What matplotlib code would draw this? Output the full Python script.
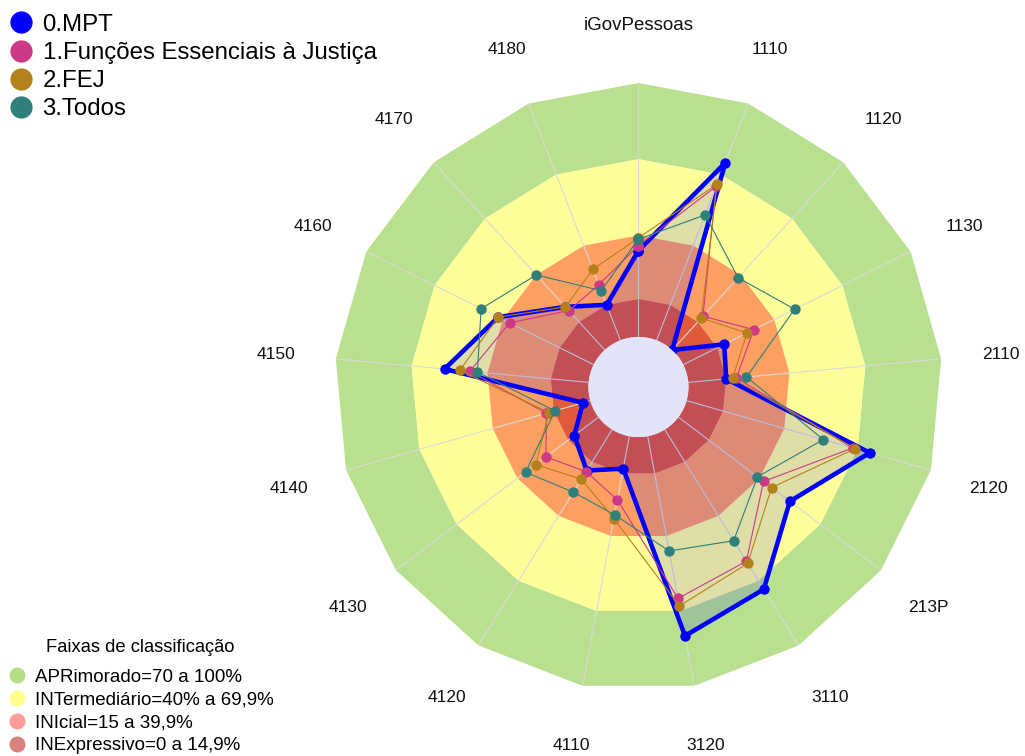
import numpy as np
import matplotlib.pyplot as plt
from matplotlib.lines import Line2D

plt.rcParams['font.family'] = ['Liberation Sans', 'DejaVu Sans']

categories = ['iGovPessoas', '1110', '1120', '1130', '2110', '2120', '213P', '3110',
              '3120', '4110', '4120', '4130', '4140', '4150', '4160', '4170', '4180']

series_names = ['0.MPT', '1.Funções Essenciais à Justiça', '2.FEJ', '3.Todos']
mpt = [34, 75, 0, 18, 15, 75, 55, 74, 80, 13, 19, 12, 3, 57, 42, 23, 15]
fej_funcoes = [36, 65, 18, 31, 19, 68, 42, 61, 65, 25.5, 19.5, 26, 18, 47, 37, 21, 23.5]
fej = [39, 66, 17, 28, 17.5, 69, 46, 62, 68, 33, 23, 31, 17, 51, 42, 23, 30]
todos = [38.5, 53, 38.5, 49, 23, 56, 39, 51.5, 46, 31.5, 29, 36, 14.5, 44, 49.5, 40, 21]
series_colors = ['#0000FF', '#CC3A87', '#B5811C', '#2F7F7B']

# faixas de classificacao (limites em %)
band_title = 'Faixas de classificação'
band_names = ['APRimorado=70 a 100%', 'INTermediário=40% a 69,9%',
              'INIcial=15 a 39,9%', 'INExpressivo=0 a 14,9%']
band_lo = [70, 40, 15, 0]
band_hi = [100, 70, 40, 15]
band_colors = ['#B9E08E', '#FFFF99', '#FFA062', '#E15A3A']
band_legend_colors = ['#B5DD88', '#FFFF8E', '#FF9C9C', '#D98080']

n = len(categories)
theta = np.linspace(0, 2 * np.pi, n, endpoint=False)
th_c = np.append(theta, theta[0])

def closed(v):
    return np.append(v, v[0])

fig = plt.figure(figsize=(10.25, 7.56), dpi=100)
ax = fig.add_axes([0.3263, 0.086, 0.5932, 0.8042], projection='polar')
ax.set_theta_zero_location('N')
ax.set_theta_direction(-1)
ax.set_ylim(0, 100)
ax.set_rorigin(-19.7)
ax.axis('off')

# background bands (polygonal rings)
for lo, hi, c in zip(band_lo, band_hi, band_colors):
    r_out = np.full(n + 1, hi)
    r_in = np.full(n + 1, lo)
    ax.fill(np.concatenate([th_c, th_c[::-1]]), np.concatenate([r_out, r_in]),
            color=c, lw=0, zorder=1)

# hole
circ = np.linspace(0, 2 * np.pi, 200)
ax.fill(circ, np.zeros_like(circ), color='#E3E3FA', lw=0, zorder=1, clip_on=False)

# spokes
for t in theta:
    ax.plot([t, t], [0, 100], color='#D9D9D9', lw=0.8, zorder=2)

# category labels
for t, lab in zip(theta, categories):
    fs = 13.5 if lab == 'iGovPessoas' else 12.5
    ax.text(t, 123.5, lab, ha='center', va='center_baseline', fontsize=fs, color='#111111')

# MPT fill
ax.fill(th_c, closed(mpt), color='#0000FF', alpha=0.13, lw=0, zorder=3)

all_series = [mpt, fej_funcoes, fej, todos]
for i, (vals, c) in enumerate(zip(all_series, series_colors)):
    lw = 3.3 if i == 0 else 0.8
    ax.plot(th_c, closed(vals), color=c, lw=lw, marker='o', markersize=7.5,
            markeredgewidth=0, zorder=4 + i)

# legends
h1 = [Line2D([], [], ls='none', marker='o', markersize=16, markeredgewidth=0, color=c)
      for c in series_colors]
leg1 = fig.legend(h1, series_names, loc='upper left', bbox_to_anchor=(0.004, 1 - 9 / 756),
                  frameon=False, fontsize=17.3, handlelength=1.0, handletextpad=0.4,
                  labelspacing=0.255, borderaxespad=0, borderpad=0.2)

fig.text(140 / 1025, 1 - 647 / 756, band_title, ha='center', va='center', fontsize=13.2)
h2 = [Line2D([], [], ls='none', marker='o', markersize=11.5, markeredgewidth=0, color=c)
      for c in band_legend_colors]
leg2 = fig.legend(h2, band_names, loc='upper left', bbox_to_anchor=(0.004, 1 - 665 / 756),
                  frameon=False, fontsize=13.5, handlelength=1.0, handletextpad=0.45,
                  labelspacing=0.3, borderaxespad=0, borderpad=0.2)

fig.savefig('out.png', dpi=100)
